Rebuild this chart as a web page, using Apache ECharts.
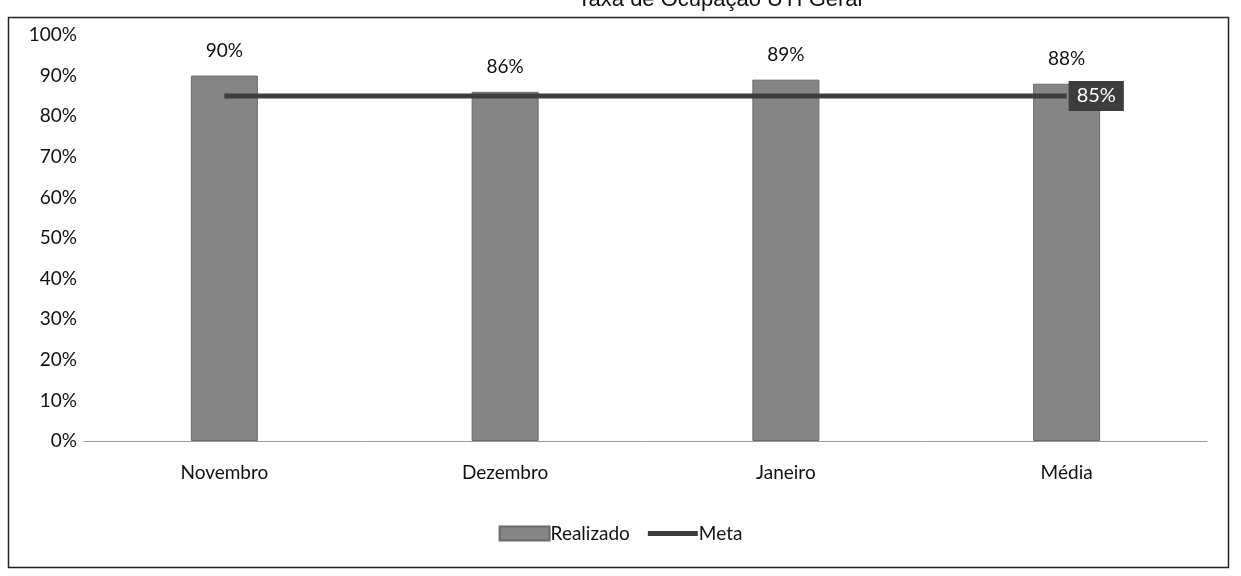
<!DOCTYPE html>
<html><head><meta charset="utf-8">
<script src="https://cdn.jsdelivr.net/npm/echarts@6/dist/echarts.min.js"></script>
<style>html,body{margin:0;padding:0;background:#fff}#c{width:1241px;height:576px}</style>
</head><body><div id="c"></div>
<script>
const titleText = 'Taxa de Ocupação UTI Geral';
const categories = ['Novembro', 'Dezembro', 'Janeiro', 'Média'];
const realizado = [0.90, 0.86, 0.89, 0.88];
const meta = [0.85, 0.85, 0.85, 0.85];
const yTicks = [0, 0.1, 0.2, 0.3, 0.4, 0.5, 0.6, 0.7, 0.8, 0.9, 1.0];

const pct = v => Math.round(v * 100) + '%';
const chart = echarts.init(document.getElementById('c'));
chart.setOption({
  animation: false,
  backgroundColor: '#fff',
  textStyle: { fontFamily: 'Lato, "Open Sans", sans-serif' },
  title: {
    text: titleText, left: 715, top: -16, textAlign: 'center',
    textStyle: { fontFamily: 'Liberation Sans, Arial, sans-serif', fontSize: 22, fontWeight: 'normal', color: '#111' }
  },
  graphic: [{
    type: 'rect', shape: { x: 8.5, y: 17.5, width: 1220, height: 550 },
    style: { fill: 'none', stroke: '#222', lineWidth: 1.5 }, silent: true, z: -1
  }],
  legend: {
    bottom: 28, left: 'center', itemGap: 18,
    itemWidth: 50, itemHeight: 14,
    textStyle: { fontSize: 19, color: '#111', padding: [0, 0, 0, -4] },
    data: [
      { name: 'Realizado', icon: 'rect' },
      { name: 'Meta', icon: 'path://M0,0h50v5h-50z' }
    ]
  },
  grid: { left: 84, right: 34, top: 35, bottom: 135 },
  xAxis: {
    type: 'category', data: categories,
    axisLine: { lineStyle: { color: '#999', width: 1 } },
    axisTick: { show: false },
    axisLabel: { fontSize: 19, color: '#111', margin: 22 }
  },
  yAxis: {
    type: 'value', min: 0, max: 1, interval: 0.1,
    axisLine: { show: false }, axisTick: { show: false },
    splitLine: { show: false },
    axisLabel: { fontSize: 19, color: '#111', margin: 7, formatter: v => pct(v) }
  },
  series: [{
    name: 'Realizado', type: 'bar', data: realizado, barWidth: 67,
    itemStyle: { color: '#858585', borderColor: '#6a6a6a', borderWidth: 1 },
    label: { show: true, position: 'top', distance: 15, fontSize: 19, color: '#111', formatter: p => pct(p.value) }
  }, {
    name: 'Meta', type: 'line', data: meta, symbol: 'none',
    lineStyle: { color: '#3d3d3d', width: 5 },
    itemStyle: { color: '#3d3d3d' },
    endLabel: {
      show: true, distance: 2,
      formatter: p => pct(p.value),
      backgroundColor: '#3d3d3d', color: '#fff', fontSize: 20, padding: [6, 8, 4, 8]
    }
  }]
});
</script></body></html>
